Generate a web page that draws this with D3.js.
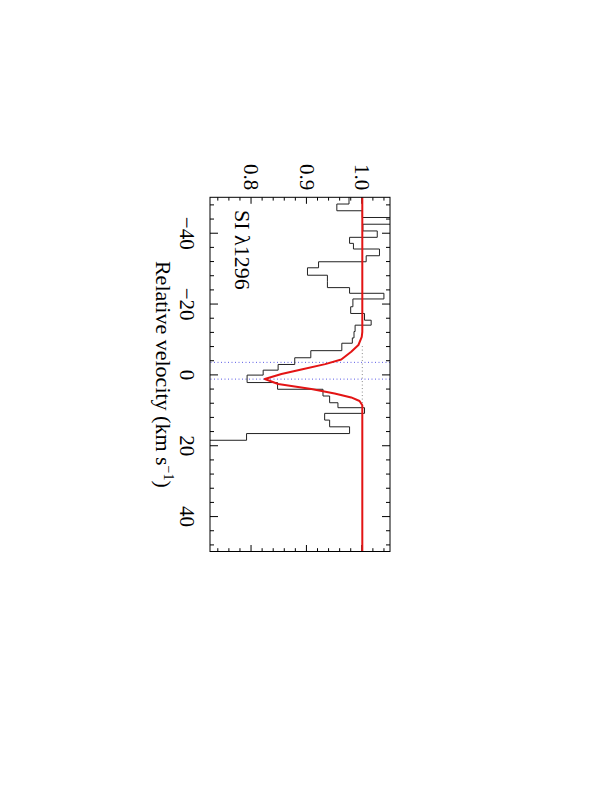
<!DOCTYPE html>
<html>
<head>
<meta charset="utf-8">
<script src="https://cdn.jsdelivr.net/npm/d3@7"></script>
<style>
  body { margin: 0; background: #fff; }
  svg { display: block; }
  text { font-family: "Liberation Serif", "Times New Roman", serif; fill: #000; }
</style>
</head>
<body>
<svg id="chart" width="600" height="789"></svg>
<script>
// spectrum bins: edges in km/s, one flux value per bin
var binEdges = [-50.2, -48.1, -46.2, -44.3, -42.4, -40.5, -38.7, -37.0, -35.4, -33.5,
    -31.8, -30.1, -28.0, -26.3, -24.5, -22.9, -21.3, -19.1, -17.2, -15.3,
    -13.9, -12.1, -10.3, -8.8, -6.7, -4.7, -2.8, -1.2, 0.2, 2.3,
    4.2, 6.1, 8.0, 9.4, 11.0, 12.9, 14.8, 16.7, 18.6, 20.4];
var binFlux = [0.976, 0.954, 1.000, 1.070, 1.001, 1.027, 0.977, 0.984, 1.031, 1.007,
    0.921, 0.901, 0.937, 0.937, 0.977, 1.039, 0.983, 0.979, 1.004, 1.016,
    0.987, 0.985, 0.982, 0.963, 0.907, 0.878, 0.848, 0.821, 0.792, 0.847,
    0.929, 0.941, 0.956, 1.004, 0.932, 0.941, 0.977, 0.791, 0.700];

// fitted model (red)
var modelVel = [-50, -12, -10.6, -8.3, -6.4, -4.2, -2.9, -1.4, -0.1, 1.3, 2.7, 4.15, 5.4, 6.5, 7.5, 8.7, 50];
var modelFlux = [1.0, 1.0, 0.999, 0.993, 0.980, 0.962, 0.933, 0.890, 0.854, 0.824, 0.848, 0.908, 0.950, 0.980, 0.995, 1.0, 1.0];

// component positions (blue dotted) and continuum marker range
var componentVel = [-3.4, 1.33];
var continuumRange = [-8, 9];

var velMajor = [-40, -20, 0, 20, 40];
var velMinor = [-48, -44, -36, -32, -28, -24, -16, -12, -8, -4, 4, 8, 12, 16, 24, 28, 32, 36, 44, 48];
var fluxMajor = [0.8, 0.9, 1.0];
var fluxMinor = [0.74, 0.76, 0.78, 0.82, 0.84, 0.86, 0.88, 0.92, 0.94, 0.96, 0.98, 1.02, 1.04];

var lineLabel = "SI λ1296";

// plot box on the page (the whole plot is turned 90 degrees clockwise)
var boxLeft = 210, boxRight = 390, boxTop = 197.3, boxBottom = 551.5;
var width = boxBottom - boxTop;   // velocity runs down the page
var height = boxRight - boxLeft;  // flux runs across the page

var svg = d3.select("#chart");
var g = svg.append("g")
    .attr("transform", "translate(" + boxRight + "," + boxTop + ") rotate(90)");

var x = d3.scaleLinear().domain([-50, 50]).range([0, width]);
var y = d3.scaleLinear().domain([0.725, 1.05]).range([height, 0]);

g.append("clipPath").attr("id", "box-clip")
    .append("rect").attr("width", width).attr("height", height);

function tidy(sel) {
    sel.select(".domain").remove();
    sel.selectAll("line").attr("stroke", "#000").attr("stroke-width", 1);
    sel.selectAll("text").style("font-family", "Liberation Serif, Times New Roman, serif")
        .style("font-size", "21px").attr("fill", "#000");
}

// velocity axis (bottom with labels, top plain)
g.append("g").attr("transform", "translate(0," + height + ")")
    .call(d3.axisBottom(x).tickValues(velMajor).tickSizeInner(-8).tickSizeOuter(0).tickPadding(15.5))
    .call(tidy);
g.append("g").attr("transform", "translate(0," + height + ")")
    .call(d3.axisBottom(x).tickValues(velMinor).tickSizeInner(-4).tickSizeOuter(0).tickFormat(""))
    .call(tidy);
g.append("g")
    .call(d3.axisTop(x).tickValues(velMajor).tickSizeInner(-8).tickSizeOuter(0).tickFormat(""))
    .call(tidy);
g.append("g")
    .call(d3.axisTop(x).tickValues(velMinor).tickSizeInner(-4).tickSizeOuter(0).tickFormat(""))
    .call(tidy);

// flux axis (left with labels, right plain)
g.append("g")
    .call(d3.axisLeft(y).tickValues(fluxMajor).tickSizeInner(-6.5).tickSizeOuter(0).tickPadding(7)
        .tickFormat(d3.format(".1f")))
    .call(tidy);
g.append("g")
    .call(d3.axisLeft(y).tickValues(fluxMinor).tickSizeInner(-3.3).tickSizeOuter(0).tickFormat(""))
    .call(tidy);
g.append("g").attr("transform", "translate(" + width + ",0)")
    .call(d3.axisRight(y).tickValues(fluxMajor).tickSizeInner(-6.5).tickSizeOuter(0).tickFormat(""))
    .call(tidy);
g.append("g").attr("transform", "translate(" + width + ",0)")
    .call(d3.axisRight(y).tickValues(fluxMinor).tickSizeInner(-3.3).tickSizeOuter(0).tickFormat(""))
    .call(tidy);

var plot = g.append("g").attr("clip-path", "url(#box-clip)");

// component markers
plot.selectAll(".comp")
    .data(componentVel).enter().append("line")
    .attr("class", "comp")
    .attr("x1", function(d) { return x(d); })
    .attr("x2", function(d) { return x(d); })
    .attr("y1", 0).attr("y2", height)
    .attr("stroke", "#5a5ae6").attr("stroke-width", 1)
    .attr("stroke-dasharray", "1,2.5");

// continuum marker
plot.append("line")
    .attr("x1", x(continuumRange[0])).attr("x2", x(continuumRange[1]))
    .attr("y1", y(1.0)).attr("y2", y(1.0))
    .attr("stroke", "#888").attr("stroke-width", 1)
    .attr("stroke-dasharray", "1,2.5");

// histogram spectrum
var steps = binFlux.map(function(f, i) { return [binEdges[i], f]; });
steps.push([binEdges[binEdges.length - 1], binFlux[binFlux.length - 1]]);
plot.append("path")
    .datum(steps)
    .attr("fill", "none")
    .attr("stroke", "#222")
    .attr("stroke-width", 1)
    .attr("d", d3.line()
        .x(function(d) { return x(d[0]); })
        .y(function(d) { return y(d[1]); })
        .curve(d3.curveStepAfter));

// model
plot.append("path")
    .datum(d3.zip(modelVel, modelFlux))
    .attr("fill", "none")
    .attr("stroke", "#e31414")
    .attr("stroke-width", 2)
    .attr("stroke-linejoin", "round")
    .attr("d", d3.line()
        .x(function(d) { return x(d[0]); })
        .y(function(d) { return y(d[1]); }));

// box
g.append("rect")
    .attr("width", width).attr("height", height)
    .attr("fill", "none").attr("stroke", "#000").attr("stroke-width", 1);

// labels
g.append("text")
    .attr("x", 12.7).attr("y", 155)
    .style("font-size", "22px")
    .text(lineLabel);

var title = g.append("text")
    .attr("x", width / 2).attr("y", height + 54)
    .attr("text-anchor", "middle")
    .style("font-size", "22px");
title.append("tspan").text("Relative velocity (km s");
title.append("tspan").attr("dy", -8).style("font-size", "14px").text("−1");
title.append("tspan").attr("dy", 8).text(")");
</script>
</body>
</html>
